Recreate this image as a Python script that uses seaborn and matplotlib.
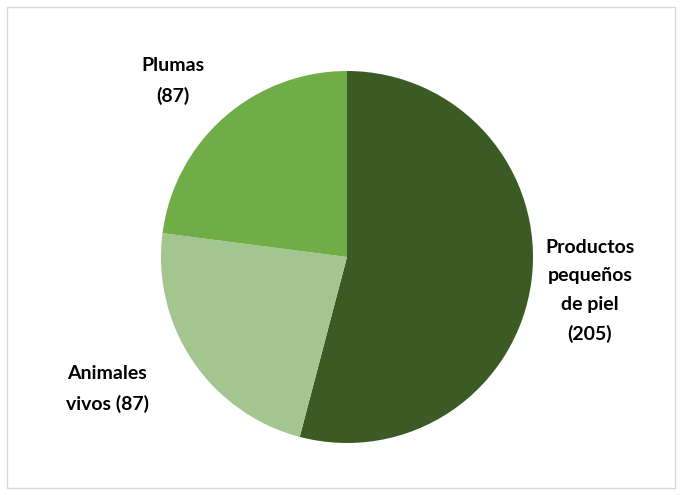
import matplotlib
matplotlib.use("Agg")
import matplotlib.pyplot as plt
import seaborn as sns
from matplotlib.patches import Rectangle

sns.set_theme(style="white")
plt.rcParams['font.family'] = ['Lato', 'DejaVu Sans']

categories = ["Productos pequeños de piel", "Animales vivos", "Plumas"]
values = [205, 87, 87]
colors = ["#3B5A24", "#A3C58F", "#70AD47"]
label_texts = ["Productos\npequeños\nde piel\n(205)", "Animales\nvivos (87)", "Plumas\n(87)"]

W, H = 682, 495
fig = plt.figure(figsize=(W / 100, H / 100), dpi=100)
fig.patch.set_facecolor("white")
fig.add_artist(Rectangle((7 / W, 7 / H), (W - 14) / W, (H - 14) / H,
                         transform=fig.transFigure, fill=False,
                         edgecolor="#D9D9D9", linewidth=1))

cx, cy, r = 347, 257, 186
ax = fig.add_axes([(cx - r) / W, (H - cy - r) / H, 2 * r / W, 2 * r / H])
ax.pie(values, colors=colors, startangle=90, counterclock=False,
       wedgeprops=dict(linewidth=0))
ax.set_xlim(-1, 1)
ax.set_ylim(-1, 1)
ax.set_aspect("equal")
ax.axis("off")

label_pos = [(590, 291), (107, 389), (173, 81)]
for txt, (x, y) in zip(label_texts, label_pos):
    fig.text(x / W, 1 - y / H, txt, ha="center", va="center",
             fontsize=14, fontweight="bold", color="#000000",
             linespacing=1.8)

fig.savefig("out.png", dpi=100)
